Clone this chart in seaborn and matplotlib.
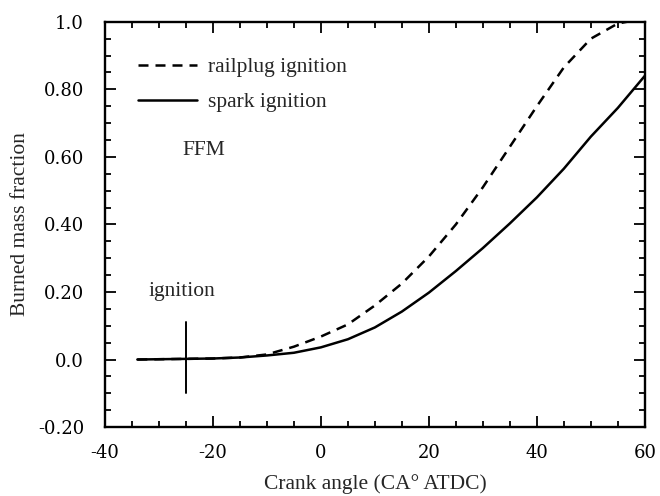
import numpy as np
import pandas as pd
import matplotlib
matplotlib.use("Agg")
import matplotlib.pyplot as plt
import seaborn as sns
from matplotlib.ticker import FixedLocator, FixedFormatter, MultipleLocator

# ---- data ----
crank_angle = [-34, -20, -15, -10, -5, 0, 5, 10, 15, 20, 25, 30, 35, 40, 45, 50, 55, 60]
spark_ignition = [0.0, 0.003, 0.006, 0.012, 0.02, 0.036, 0.06, 0.095, 0.142, 0.198, 0.262,
                  0.33, 0.403, 0.48, 0.565, 0.66, 0.745, 0.84]
railplug_ignition = [0.0, 0.003, 0.006, 0.015, 0.038, 0.068, 0.104, 0.16, 0.225, 0.305, 0.40,
                     0.51, 0.63, 0.75, 0.865, 0.95, 0.995, 1.01]
series_names = ["railplug ignition", "spark ignition"]
ignition_angle = -25
ignition_marker_y = [-0.10, 0.11]

x_ticks = [-40, -20, 0, 20, 40, 60]
x_tick_labels = ["-40", "-20", "0", "20", "40", "60"]
y_ticks = [-0.2, 0.0, 0.2, 0.4, 0.6, 0.8, 1.0]
y_tick_labels = ["-0.20", "0.0", "0.20", "0.40", "0.60", "0.80", "1.0"]

df = pd.concat([
    pd.DataFrame({"angle": crank_angle, "fraction": railplug_ignition, "case": series_names[0]}),
    pd.DataFrame({"angle": crank_angle, "fraction": spark_ignition, "case": series_names[1]}),
])

sns.set_style("ticks")
plt.rcParams["font.family"] = ["Liberation Serif", "DejaVu Serif"]

TXT = 15.5

fig = plt.figure(figsize=(6.6, 4.96), dpi=100)
ax = fig.add_axes([0.159, 0.139, 0.818, 0.817])

sns.lineplot(data=df, x="angle", y="fraction", style="case", hue="case",
             palette={series_names[0]: "black", series_names[1]: "black"},
             dashes={series_names[0]: (4.0, 2.8), series_names[1]: ""},
             linewidth=1.8, ax=ax, legend=True)

ax.plot([ignition_angle, ignition_angle], ignition_marker_y, color="black", lw=1.4)

ax.set_xlim(-40, 60)
ax.set_ylim(-0.2, 1.0)
ax.xaxis.set_major_locator(FixedLocator(x_ticks))
ax.xaxis.set_major_formatter(FixedFormatter(x_tick_labels))
ax.yaxis.set_major_locator(FixedLocator(y_ticks))
ax.yaxis.set_major_formatter(FixedFormatter(y_tick_labels))
ax.xaxis.set_minor_locator(MultipleLocator(5))
ax.yaxis.set_minor_locator(MultipleLocator(0.05))
ax.tick_params(which="both", direction="in", top=True, right=True, width=1.3, colors="black")
ax.tick_params(which="major", length=8)
ax.tick_params(which="minor", length=4)
ax.tick_params(axis="x", which="major", pad=12)
ax.tick_params(axis="y", which="major", pad=15)
for lab in ax.get_xticklabels() + ax.get_yticklabels():
    lab.set_fontfamily("DejaVu Serif")
    lab.set_fontsize(13)
for s in ax.spines.values():
    s.set_linewidth(1.7)
    s.set_color("black")

ax.set_xlabel("Crank angle (CA° ATDC)", fontsize=TXT, labelpad=9)
ax.set_ylabel("Burned mass fraction", fontsize=TXT, labelpad=6)

handles, labels = ax.get_legend_handles_labels()
leg = ax.legend(handles, labels, loc="upper left", bbox_to_anchor=(-33.9, 0.895),
                bbox_transform=ax.transData,
                frameon=False, fontsize=TXT, handlelength=2.75, handletextpad=0.5,
                labelspacing=0.7, borderaxespad=0, borderpad=0)

ax.text(-21.7, 0.62, "FFM", fontsize=TXT, ha="center", va="center")
ax.text(-25.7, 0.2, "ignition", fontsize=TXT, ha="center", va="center")

fig.savefig("out.png", dpi=100, facecolor="white")
